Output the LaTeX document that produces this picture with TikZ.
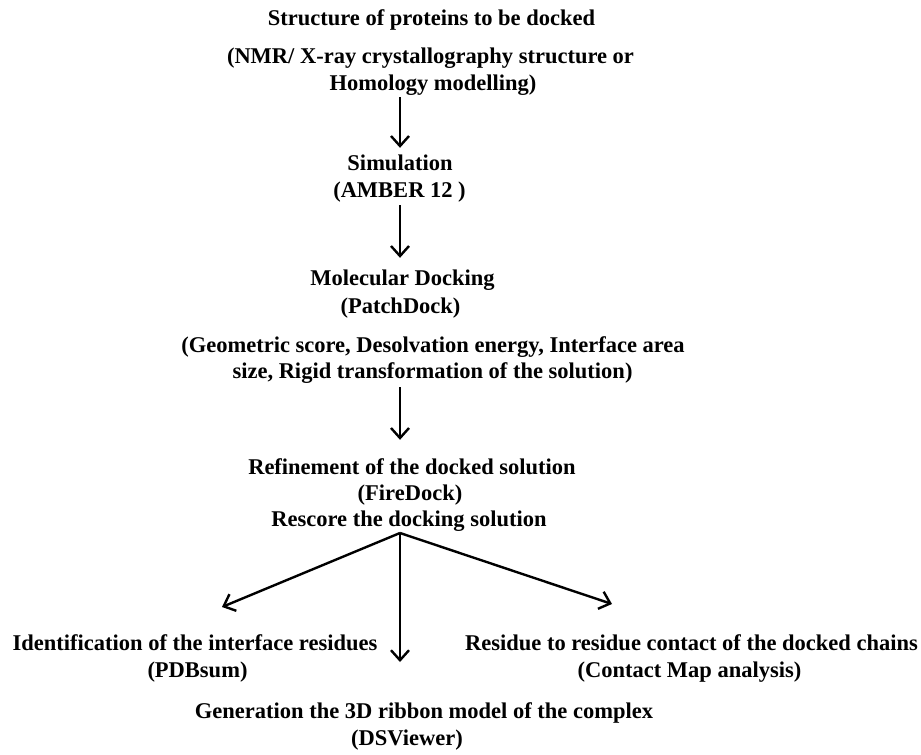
\documentclass[tikz,border=0pt]{standalone}
\usepackage{fontspec}
\setmainfont{Liberation Serif}
\usetikzlibrary{arrows.meta}
\begin{document}
\begin{tikzpicture}[x=1pt,y=-1pt,
  lbl/.style={font=\fontsize{22.5}{26}\selectfont\bfseries, inner sep=0pt, text height=15pt, text depth=5pt},
  arr/.style={line width=2.4pt, -{Straight Barb[length=10pt,width=18pt,line width=2.4pt]}}]
\useasboundingbox (0,0) rectangle (921,755);
\fill[white] (0,0) rectangle (921,755);
\node[lbl] (L1) at (431.5,20) {Structure of proteins to be docked};
\node[lbl] (L2) at (430.5,58) {(NMR/ X-ray crystallography structure or};
\node[lbl] (L3) at (433,85) {Homology modelling)};
\node[lbl] (L4) at (400,165) {Simulation};
\node[lbl] (L5) at (399.5,192) {(AMBER 12 )};
\node[lbl] (L6) at (402.5,280) {Molecular Docking};
\node[lbl] (L7) at (400.5,308) {(PatchDock)};
\node[lbl] (L8) at (433,347) {(Geometric score, Desolvation energy, Interface area};
\node[lbl] (L9) at (432.5,373) {size, Rigid transformation of the solution)};
\node[lbl] (L10) at (412,469) {Refinement of the docked solution};
\node[lbl] (L11) at (410,495) {(FireDock)};
\node[lbl] (L12) at (409,521) {Rescore the docking solution};
\node[lbl] (L13) at (195,645) {Identification of the interface residues};
\node[lbl] (L14) at (197.5,672) {(PDBsum)};
\node[lbl] (L15) at (691.5,645) {Residue to residue contact of the docked chains};
\node[lbl] (L16) at (689.5,672) {(Contact Map analysis)};
\node[lbl] (L17) at (424,713) {Generation the 3D ribbon model of the complex};
\node[lbl] (L18) at (407,740) {(DSViewer)};
\coordinate (br) at (400,533);
\coordinate (tipL) at (222,607);
\coordinate (tipR) at (612,604);
\coordinate (tipC) at (400,662);
\draw[arr, shorten <=2pt, shorten >=7pt] (L4.north |- L3.south) -- (L4.north);
\draw[arr, shorten <=3pt, shorten >=12pt] (br |- L5.south) -- (br |- L6.north);
\draw[arr, shorten <=4pt, shorten >=19pt] (br |- L9.south) -- (br |- L10.north);
\draw[arr] (br) -- (tipL);
\draw[arr] (br) -- (tipR);
\draw[arr] (br) -- (tipC);
\end{tikzpicture}
\end{document}
